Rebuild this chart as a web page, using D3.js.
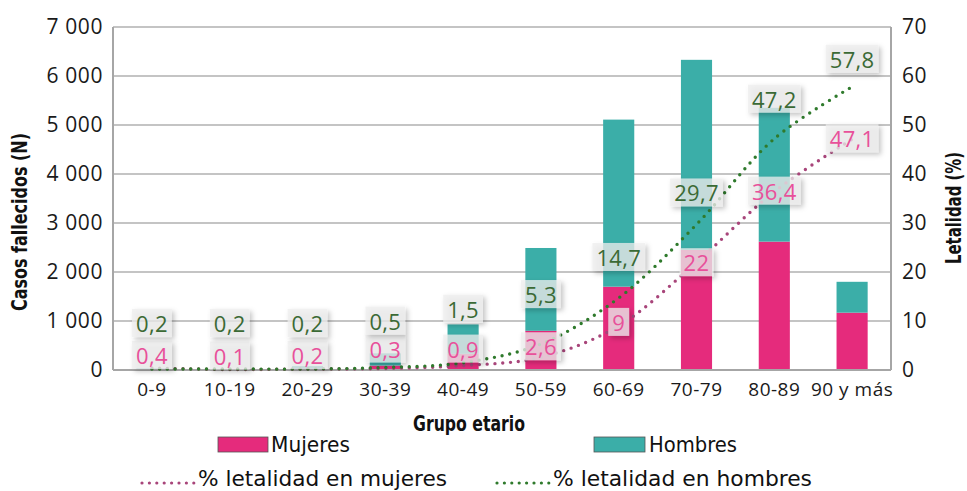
<!DOCTYPE html>
<html><head><meta charset="utf-8">
<script src="https://cdn.jsdelivr.net/npm/d3@7"></script>
<style>body{margin:0;background:#fff}svg{display:block}</style>
</head><body>
<svg id="c" width="967" height="491"></svg>
<script>
// ---- data ----
const categories = ["0-9","10-19","20-29","30-39","40-49","50-59","60-69","70-79","80-89","90 y más"];
const mujeres = [15, 10, 25, 90, 330, 800, 1700, 2450, 2620, 1170];
const hombres = [15, 10, 55, 250, 600, 1690, 3410, 3880, 2730, 630];
const letMujeres = [0.4, 0.1, 0.2, 0.3, 0.9, 2.6, 9, 22, 36.4, 47.1];
const letHombres = [0.2, 0.2, 0.2, 0.5, 1.5, 5.3, 14.7, 29.7, 47.2, 57.8];
const leftTicks = [0,1000,2000,3000,4000,5000,6000,7000];
const rightTicks = [0,10,20,30,40,50,60,70];
// label offsets (layout only, px from point)
const dyHombres = [-46,-46,-46,-47,-54,-50,-41,-32,-40,-28];
const dyMujeres = [-13,-14,-14,-20,-17,-11,-4,0,-1,-1];

const C = {pink:"#E52B7C", teal:"#3BAEA8", lineP:"#A8457A", lineG:"#2F7A2C",
           txtP:"#E8509A", txtG:"#3B6A35", grid:"#C4C4C4", axis:"#A6A6A6", text:"#1a1a1a"};
const FONT = "'Open Sans', sans-serif";
const NARROW = "'Liberation Sans Narrow','DejaVu Sans Condensed',sans-serif";

const svg = d3.select("#c");
const defs = svg.append("defs");
const f = defs.append("filter").attr("id","sh").attr("x","-30%").attr("y","-30%").attr("width","170%").attr("height","170%");
f.append("feDropShadow").attr("dx",2.5).attr("dy",2.5).attr("stdDeviation",2.5).attr("flood-color","#000").attr("flood-opacity",0.3);

const L = 113, R = 891, T = 27, B = 370;
const x = d3.scaleBand().domain(categories).range([L,R]).paddingInner(0.6).paddingOuter(0.3);
const yL = d3.scaleLinear().domain([0,7000]).range([B,T]);
const yR = d3.scaleLinear().domain([0,70]).range([B,T]);
const cx = c => x(c) + x.bandwidth()/2;

// grid
svg.append("g").selectAll("line").data(leftTicks.slice(1)).join("line")
  .attr("x1",L).attr("x2",R).attr("y1",d=>yL(d)).attr("y2",d=>yL(d))
  .attr("stroke",C.grid).attr("stroke-width",2);

// bars
const stack = categories.map((c,i)=>({c, m:mujeres[i], h:hombres[i]}));
svg.append("g").selectAll("rect").data(stack).join("rect")
  .attr("x",d=>x(d.c)).attr("width",x.bandwidth())
  .attr("y",d=>yL(d.m)).attr("height",d=>yL(0)-yL(d.m)).attr("fill",C.pink);
svg.append("g").selectAll("rect").data(stack).join("rect")
  .attr("x",d=>x(d.c)).attr("width",x.bandwidth())
  .attr("y",d=>yL(d.m+d.h)).attr("height",d=>yL(d.m)-yL(d.m+d.h)).attr("fill",C.teal);

// axes lines
svg.append("line").attr("x1",L).attr("x2",L).attr("y1",T).attr("y2",B).attr("stroke",C.axis).attr("stroke-width",2);
svg.append("line").attr("x1",R).attr("x2",R).attr("y1",T).attr("y2",B).attr("stroke",C.axis).attr("stroke-width",2);
svg.append("line").attr("x1",L).attr("x2",R).attr("y1",B).attr("y2",B).attr("stroke",C.axis).attr("stroke-width",2);

// axis tick labels
const fmt = d => d3.format(",")(d).replace(/,/g," ");
const axL = d3.axisLeft(yL).tickValues(leftTicks).tickFormat(fmt).tickSize(0).tickPadding(10);
const gL = svg.append("g").attr("transform",`translate(${L},0)`).call(axL);
const axR = d3.axisRight(yR).tickValues(rightTicks).tickSize(0).tickPadding(11);
const gR = svg.append("g").attr("transform",`translate(${R},0)`).call(axR);
const axB = d3.axisBottom(x).tickSize(0).tickPadding(13);
const gB = svg.append("g").attr("transform",`translate(0,${B})`).call(axB);
[gL,gR,gB].forEach(g=>{
  g.select(".domain").remove();
  g.selectAll("text").attr("font-family",FONT).attr("font-weight",400).attr("font-size",21)
    .attr("letter-spacing",0.6).attr("fill",C.text);
});
gB.selectAll("text").attr("font-size",19).attr("letter-spacing",0.5);

// lines
const line = vals => d3.line().x((d,i)=>cx(categories[i])).y(d=>yR(d)).curve(d3.curveCatmullRom.alpha(0.5))(vals);
svg.append("path").attr("d",line(letMujeres)).attr("fill","none").attr("stroke",C.lineP)
  .attr("stroke-width",3.4).attr("stroke-linecap","round").attr("stroke-dasharray","0 7.8");
svg.append("path").attr("d",line(letHombres)).attr("fill","none").attr("stroke",C.lineG)
  .attr("stroke-width",3.4).attr("stroke-linecap","round").attr("stroke-dasharray","0 7.8");

// data labels
const fmtC = v => String(v).replace(".",",");
function labels(vals, dys, col){
  const g = svg.append("g");
  vals.forEach((v,i)=>{
    const lx = cx(categories[i]), ly = yR(v)+dys[i];
    const gg = g.append("g");
    const r = gg.append("rect");
    const t = gg.append("text").attr("x",lx).attr("y",ly).attr("text-anchor","middle")
      .attr("dominant-baseline","central").attr("font-family",FONT).attr("font-weight",400)
      .attr("font-size",22).attr("letter-spacing",0.3).attr("fill",col).text(fmtC(v));
    const bb = t.node().getBBox();
    r.attr("x",bb.x-4).attr("y",ly-14).attr("width",bb.width+8).attr("height",28)
      .attr("fill","#EEEEEE").attr("fill-opacity",0.75).attr("filter","url(#sh)");
  });
}
labels(letMujeres, dyMujeres, C.txtP);
labels(letHombres, dyHombres, C.txtG);

// axis titles
function tt(txt, xx, yy, len, rot, size, weight){
  const t = svg.append("text").attr("transform",`translate(${xx},${yy}) rotate(${rot})`)
    .attr("text-anchor","middle").attr("dominant-baseline","central")
    .attr("font-family",NARROW).attr("font-weight",weight).attr("font-size",size).attr("fill","#111").text(txt);
  if(len) t.attr("textLength",len).attr("lengthAdjust","spacingAndGlyphs");
  return t;
}
tt("Casos fallecidos (N)", 20, 222, 178, -90, 21, 700);
tt("Letalidad (%)", 954, 208, 112, -90, 21, 700);
tt("Grupo etario", 469, 424, 112, 0, 21, 700);

// legend
function ltext(txt, xx, yy, len, size){
  svg.append("text").attr("x",xx).attr("y",yy).attr("dominant-baseline","central")
    .attr("font-family",NARROW).attr("font-size",size).attr("fill","#111")
    .attr("textLength",len).attr("lengthAdjust","spacingAndGlyphs").text(txt);
}
svg.append("rect").attr("x",218).attr("y",437).attr("width",50).attr("height",15).attr("fill",C.pink).attr("stroke","#555").attr("stroke-width",0.8);
ltext("Mujeres", 271, 444, 79, 22);
svg.append("rect").attr("x",594).attr("y",437).attr("width",51).attr("height",15).attr("fill",C.teal).attr("stroke","#555").attr("stroke-width",0.8);
ltext("Hombres", 649, 444, 88, 22);
svg.append("line").attr("x1",142).attr("x2",194).attr("y1",483).attr("y2",483).attr("stroke",C.lineP)
  .attr("stroke-width",3.2).attr("stroke-linecap","round").attr("stroke-dasharray","0 7.4");
ltext("% letalidad en mujeres", 198, 478, 249, 22);
svg.append("line").attr("x1",497).attr("x2",549).attr("y1",483).attr("y2",483).attr("stroke",C.lineG)
  .attr("stroke-width",3.2).attr("stroke-linecap","round").attr("stroke-dasharray","0 7.4");
ltext("% letalidad en hombres", 553, 478, 259, 22);
</script>
</body></html>
